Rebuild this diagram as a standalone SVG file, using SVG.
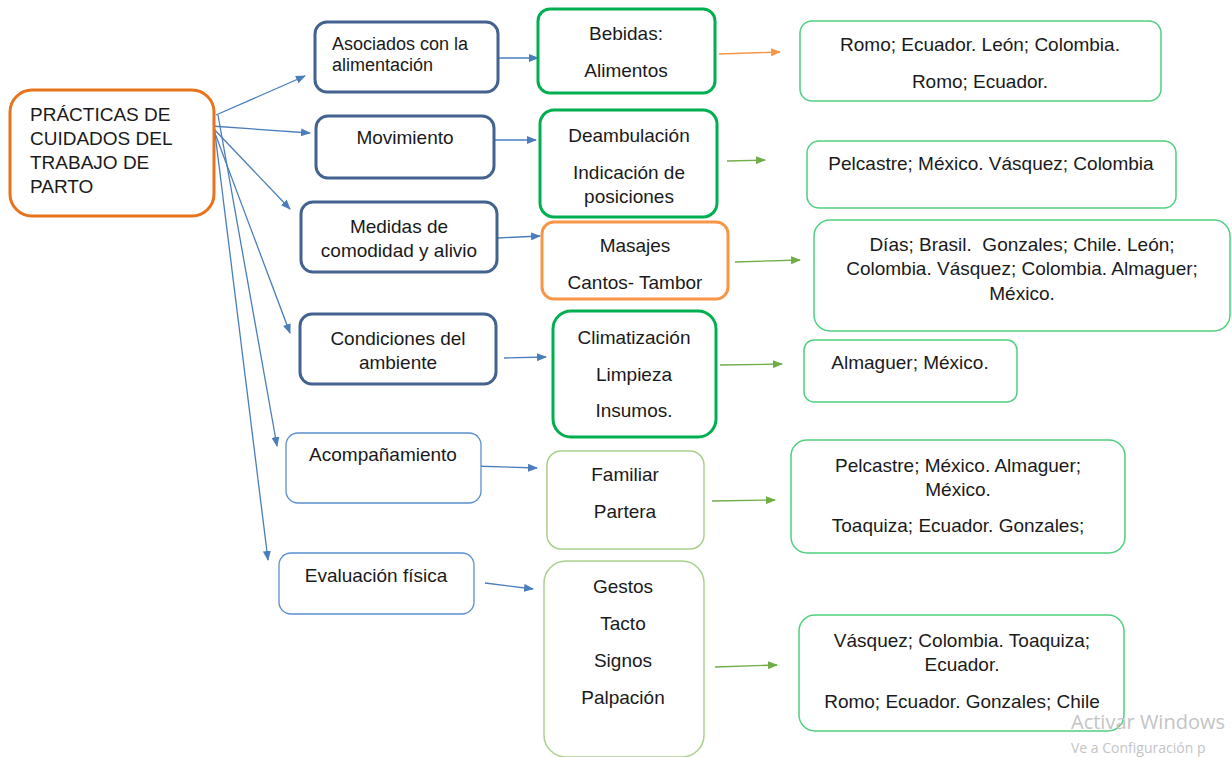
<svg xmlns="http://www.w3.org/2000/svg" width="1232" height="757" viewBox="0 0 1232 757">
<defs>
<style>
text{font-family:"Liberation Sans",Arial,sans-serif;font-size:19px;fill:#1a1a1a;white-space:pre}
.c{text-anchor:middle}
.root{fill:#fff;stroke:#E8731A;stroke-width:3}
.l1{fill:#fff;stroke:#43628F;stroke-width:3}
.l1t{fill:#fff;stroke:#5B8FD0;stroke-width:1.3}
.g2{fill:#fff;stroke:#00B050;stroke-width:3}
.o2{fill:#fff;stroke:#F79646;stroke-width:3}
.lg2{fill:#fff;stroke:#A9D18E;stroke-width:1.5}
.l3{fill:#fff;stroke:#4FD07F;stroke-width:1.5}
.ab{stroke:#4A7EBB;stroke-width:1.3;fill:none;marker-end:url(#mb)}
.ag{stroke:#70AD47;stroke-width:1.3;fill:none;marker-end:url(#mg)}
.ao{stroke:#F79646;stroke-width:1.3;fill:none;marker-end:url(#mo)}
.wm{fill:#c4c4c4;font-family:"Open Sans","Liberation Sans",sans-serif}
</style>
<marker id="mb" markerWidth="10" markerHeight="8" refX="9" refY="4" orient="auto" markerUnits="userSpaceOnUse"><path d="M0,0 L10,4 L0,8 Z" fill="#4A7EBB"/></marker>
<marker id="mg" markerWidth="10" markerHeight="8" refX="9" refY="4" orient="auto" markerUnits="userSpaceOnUse"><path d="M0,0 L10,4 L0,8 Z" fill="#70AD47"/></marker>
<marker id="mo" markerWidth="10" markerHeight="8" refX="9" refY="4" orient="auto" markerUnits="userSpaceOnUse"><path d="M0,0 L10,4 L0,8 Z" fill="#F79646"/></marker>
</defs>
<rect width="1232" height="757" fill="#fff"/>

<g id="connectors">
<line class="ab" x1="216" y1="115" x2="305" y2="76"/>
<line class="ab" x1="211" y1="126" x2="310" y2="133"/>
<line class="ab" x1="211" y1="126" x2="290" y2="209"/>
<line class="ab" x1="213" y1="128" x2="290" y2="333"/>
<line class="ab" x1="218" y1="115" x2="277" y2="446"/>
<line class="ab" x1="214" y1="125" x2="268" y2="560"/>
<line class="ab" x1="498" y1="58" x2="538" y2="58"/>
<line class="ab" x1="494" y1="140" x2="536" y2="140"/>
<line class="ab" x1="497" y1="238" x2="540" y2="236"/>
<line class="ab" x1="504" y1="358" x2="546" y2="357"/>
<line class="ab" x1="472" y1="466" x2="537" y2="468"/>
<line class="ab" x1="485" y1="583" x2="533" y2="589"/>
<line class="ao" x1="719" y1="54" x2="780" y2="52"/>
<line class="ag" x1="727" y1="161" x2="765" y2="160"/>
<line class="ag" x1="735" y1="262" x2="800" y2="260"/>
<line class="ag" x1="720" y1="365" x2="782" y2="364"/>
<line class="ag" x1="712" y1="501" x2="775" y2="500"/>
<line class="ag" x1="715" y1="667" x2="777" y2="665"/>
</g>

<g id="root">
<rect class="root" x="10" y="90" width="204" height="126" rx="22"/>
<text x="30" y="121">PRÁCTICAS DE</text>
<text x="30" y="145">CUIDADOS DEL</text>
<text x="30" y="169">TRABAJO DE</text>
<text x="30" y="193">PARTO</text>
</g>

<g id="asociados">
<rect class="l1" x="315" y="22" width="183" height="70" rx="12"/>
<text x="332" y="50" style="font-size:18px">Asociados con la</text>
<text x="332" y="71" style="font-size:18px">alimentación</text>
</g>
<g id="movimiento">
<rect class="l1" x="316" y="116" width="178" height="62" rx="12"/>
<text class="c" x="405" y="144">Movimiento</text>
</g>
<g id="medidas">
<rect class="l1" x="301" y="202" width="196" height="70" rx="12"/>
<text class="c" x="399" y="233">Medidas de</text>
<text class="c" x="399" y="257">comodidad y alivio</text>
</g>
<g id="condiciones">
<rect class="l1" x="300" y="314" width="196" height="70" rx="12"/>
<text class="c" x="398" y="345">Condiciones del</text>
<text class="c" x="398" y="369">ambiente</text>
</g>
<g id="acompanamiento">
<rect class="l1t" x="286" y="433" width="195" height="70" rx="12"/>
<text class="c" x="383" y="461">Acompañamiento</text>
</g>
<g id="evaluacion">
<rect class="l1t" x="279" y="553" width="195" height="61" rx="12"/>
<text class="c" x="376" y="582">Evaluación física</text>
</g>

<g id="bebidas">
<rect class="g2" x="538" y="9" width="177" height="84" rx="12"/>
<text class="c" x="626" y="40">Bebidas:</text>
<text class="c" x="626" y="77">Alimentos</text>
</g>
<g id="deambulacion">
<rect class="g2" x="540" y="110" width="177" height="107" rx="14"/>
<text class="c" x="629" y="142">Deambulación</text>
<text class="c" x="629" y="179">Indicación de</text>
<text class="c" x="629" y="203">posiciones</text>
</g>
<g id="masajes">
<rect class="o2" x="542" y="222" width="186" height="77" rx="12"/>
<text class="c" x="635" y="252">Masajes</text>
<text class="c" x="635" y="289">Cantos- Tambor</text>
</g>
<g id="climatizacion">
<rect class="g2" x="553" y="311" width="163" height="126" rx="18"/>
<text class="c" x="634" y="344">Climatización</text>
<text class="c" x="634" y="381">Limpieza</text>
<text class="c" x="634" y="417">Insumos.</text>
</g>
<g id="familiar">
<rect class="lg2" x="547" y="451" width="157" height="98" rx="14"/>
<text class="c" x="625" y="481">Familiar</text>
<text class="c" x="625" y="518">Partera</text>
</g>
<g id="gestos">
<rect class="lg2" x="544" y="561" width="160" height="196" rx="22"/>
<text class="c" x="623" y="593">Gestos</text>
<text class="c" x="623" y="630">Tacto</text>
<text class="c" x="623" y="667">Signos</text>
<text class="c" x="623" y="704">Palpación</text>
</g>

<g id="ref1">
<rect class="l3" x="800" y="21" width="361" height="80" rx="12"/>
<text class="c" x="980" y="51">Romo; Ecuador. León; Colombia.</text>
<text class="c" x="980" y="88">Romo; Ecuador.</text>
</g>
<g id="ref2">
<rect class="l3" x="807" y="141" width="369" height="67" rx="12"/>
<text class="c" x="991" y="170">Pelcastre; México. Vásquez; Colombia</text>
</g>
<g id="ref3">
<rect class="l3" x="814" y="220" width="416" height="111" rx="16"/>
<text class="c" x="1022" y="251">Días; Brasil.  Gonzales; Chile. León;</text>
<text class="c" x="1022" y="275">Colombia. Vásquez; Colombia. Almaguer;</text>
<text class="c" x="1022" y="300">México.</text>
</g>
<g id="ref4">
<rect class="l3" x="804" y="340" width="213" height="62" rx="10"/>
<text class="c" x="910" y="369">Almaguer; México.</text>
</g>
<g id="ref5">
<rect class="l3" x="791" y="440" width="334" height="113" rx="16"/>
<text class="c" x="958" y="472">Pelcastre; México. Almaguer;</text>
<text class="c" x="958" y="496">México.</text>
<text class="c" x="958" y="532">Toaquiza; Ecuador. Gonzales;</text>
</g>
<g id="ref6">
<rect class="l3" x="799" y="615" width="325" height="116" rx="16"/>
<text class="c" x="962" y="647">Vásquez; Colombia. Toaquiza;</text>
<text class="c" x="962" y="671">Ecuador.</text>
<text class="c" x="962" y="708">Romo; Ecuador. Gonzales; Chile</text>
</g>

<g id="watermark">
<text class="wm" x="1071" y="729" style="font-size:20px">Activar Windows</text>
<text class="wm" x="1071" y="753" style="font-size:14px">Ve a Configuración p</text>
</g>
</svg>
